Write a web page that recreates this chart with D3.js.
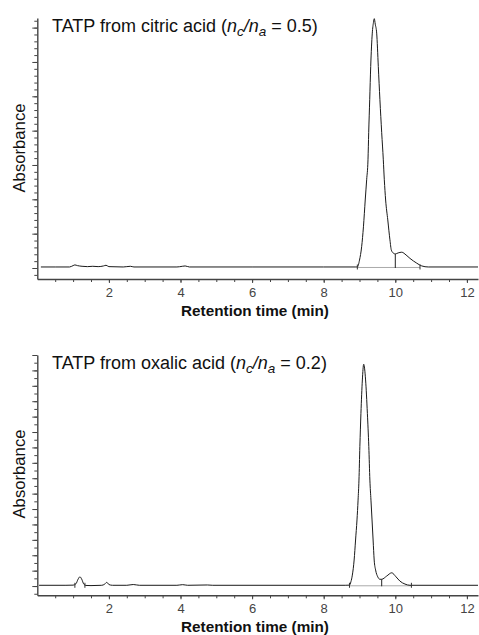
<!DOCTYPE html>
<html>
<head>
<meta charset="utf-8">
<script src="https://cdn.jsdelivr.net/npm/d3@7"></script>
<style>
  html, body { margin: 0; padding: 0; background: #fff; }
  svg { display: block; font-family: Arial, "Liberation Sans", sans-serif; }
</style>
</head>
<body>
<svg id="chart" width="479" height="635"></svg>
<script>
// ---------- DATA ----------
// Top panel: TATP from citric acid
const timesCitric = [0.10,0.50,0.90,1.00,1.05,1.12,1.25,1.40,1.55,1.70,1.85,1.92,2.00,2.40,2.60,2.70,3.90,4.05,4.13,4.25,6.00,8.00,8.90,
  8.94,9.00,9.06,9.11,9.16,9.20,9.237,9.257,9.285,9.313,9.357,9.39,9.413,9.44,9.48,9.525,9.57,9.62,9.665,9.693,9.73,9.79,9.85,9.89,9.95,
  10.00,10.08,10.18,10.30,10.41,10.60,10.74,10.92,12.31];
const absorbCitric = [0.03,0.03,0.03,0.07,0.09,0.07,0.05,0.04,0.05,0.04,0.06,0.08,0.04,0.03,0.05,0.03,0.03,0.05,0.06,0.03,0.03,0.03,0.03,
  0.03,0.23,0.62,1.20,1.98,2.57,3.15,3.94,4.90,5.87,6.84,7.15,7.26,7.10,6.84,5.87,4.90,3.94,3.15,2.57,1.98,1.40,0.82,0.52,0.43,
  0.41,0.44,0.46,0.38,0.28,0.14,0.06,0.03,0.03];
const markCitric = [8.94, 10.69];     // integration start/end marks
const dropCitric = [10.00];            // peak separation drop line

// Bottom panel: TATP from oxalic acid
const timesOxalic = [0.05,0.80,1.00,1.08,1.14,1.19,1.24,1.30,1.36,1.50,1.80,1.88,1.94,2.00,2.10,2.50,2.68,2.85,3.90,4.06,4.20,4.75,4.90,8.60,
  8.72,8.76,8.80,8.85,8.89,8.93,8.96,8.985,9.01,9.04,9.08,9.117,9.17,9.22,9.26,9.29,9.32,9.35,9.38,9.41,9.45,9.51,9.57,9.62,
  9.76,9.90,10.02,10.13,10.27,10.41,12.31];
const absorbOxalic = [0.05,0.05,0.06,0.15,0.45,0.60,0.45,0.12,0.04,0.03,0.05,0.12,0.24,0.10,0.05,0.05,0.10,0.05,0.05,0.09,0.05,0.07,0.05,0.05,
  0.06,0.28,0.71,1.69,2.99,4.29,5.58,6.88,9.05,11.21,13.38,14.40,13.38,11.21,9.05,6.88,5.58,4.29,2.99,1.69,1.04,0.60,0.44,0.44,
  0.65,0.86,0.60,0.32,0.13,0.05,0.05];
const markOxalic = [1.05, 1.33, 8.72, 10.45];
const dropOxalic = [9.62];

// Axis ticks
const xMajorTicks = [2, 4, 6, 8, 10, 12];
const xMinorTicks = d3.range(1, 25).map(i => i * 0.5);
const yMajorCitric = d3.range(0, 8);
const yMinorCitric = d3.range(-1, 37).map(i => i * 0.2);
const yMajorOxalic = d3.range(0, 16);
const yMinorOxalic = d3.range(-1, 31).map(i => i * 0.5);

// ---------- DRAWING ----------
const svg = d3.select("#chart");
const xScale = d3.scaleLinear().domain([0, 12.31]).range([37.3, 478]);

function drawPanel(p) {
  const g = svg.append("g");
  const y = d3.scaleLinear().domain(p.yDomain).range(p.yRange);
  const axisY = p.yRange[0];

  // x axis minor + major ticks
  g.append("g").attr("transform", `translate(0,${axisY})`)
    .call(d3.axisBottom(xScale).tickValues(xMinorTicks).tickSize(3).tickSizeOuter(0).tickFormat(""))
    .call(a => a.selectAll("line").attr("stroke", "#444"))
    .call(a => a.select(".domain").attr("stroke", "#444").attr("stroke-width", 1.4));
  g.append("g").attr("transform", `translate(0,${axisY})`)
    .call(d3.axisBottom(xScale).tickValues(xMajorTicks).tickSize(4).tickPadding(4.5).tickSizeOuter(0).tickFormat(d3.format("d")))
    .call(a => a.select(".domain").remove())
    .call(a => a.selectAll("line").attr("stroke", "#444"))
    .call(a => a.selectAll("text").attr("fill", "#444").style("font-size", "13px")
      .style("font-family", "Arial, 'Liberation Sans', sans-serif"));

  // y axis
  g.append("g").attr("transform", `translate(${xScale(0)},0)`)
    .call(d3.axisLeft(y).tickValues(p.yMinor).tickSize(3).tickSizeOuter(0).tickFormat(""))
    .call(a => a.selectAll("line").attr("stroke", "#444"))
    .call(a => a.select(".domain").attr("stroke", "#444").attr("stroke-width", 1.4));
  g.append("g").attr("transform", `translate(${xScale(0)},0)`)
    .call(d3.axisLeft(y).tickValues(p.yMajor).tickSize(5).tickSizeOuter(0).tickFormat(""))
    .call(a => a.select(".domain").remove())
    .call(a => a.selectAll("line").attr("stroke", "#444"));

  const base = p.values[0];
  // integration baseline (grey)
  const ext = d3.extent(p.marks.filter(m => m > 8));
  g.append("line")
    .attr("x1", xScale(ext[0])).attr("x2", xScale(ext[1]))
    .attr("y1", y(base) + 0.5).attr("y2", y(base) + 0.5)
    .attr("stroke", "#aaa").attr("stroke-width", 1);

  // trace
  const pts = p.times.map((t, i) => [t, p.values[i]]);
  g.append("path").datum(pts)
    .attr("fill", "none").attr("stroke", "#1a1a1a").attr("stroke-width", 1)
    .attr("d", d3.line().x(d => xScale(d[0])).y(d => y(d[1])).curve(d3.curveMonotoneX));

  // drop lines
  p.drops.forEach(t => {
    const i = p.times.indexOf(t);
    const v = i >= 0 ? p.values[i] : base;
    g.append("line").attr("x1", xScale(t)).attr("x2", xScale(t))
      .attr("y1", y(v)).attr("y2", y(base) + 1)
      .attr("stroke", "#222").attr("stroke-width", 1);
  });
  // integration marks
  p.marks.forEach(t => {
    g.append("line").attr("x1", xScale(t)).attr("x2", xScale(t))
      .attr("y1", y(base) - 2.5).attr("y2", y(base) + 2.5)
      .attr("stroke", "#333").attr("stroke-width", 1);
  });

  // title
  const tt = g.append("text").attr("x", 52).attr("y", p.titleY)
    .style("font-size", "18px").attr("fill", "#111");
  tt.append("tspan").text(p.titlePrefix);
  tt.append("tspan").attr("font-style", "italic").text("n");
  tt.append("tspan").attr("font-style", "italic").attr("dy", 4).style("font-size", "13.5px").text("c");
  tt.append("tspan").attr("dy", -4).attr("font-style", "italic").text("/n");
  tt.append("tspan").attr("font-style", "italic").attr("dy", 4).style("font-size", "13.5px").text("a");
  tt.append("tspan").attr("dy", -4).text(" = " + p.ratio + ")");

  // axis titles
  g.append("text").attr("x", 255).attr("y", p.xLabelY).attr("text-anchor", "middle")
    .style("font-size", "15.3px").style("font-weight", "bold").attr("fill", "#111")
    .text("Retention time (min)");
  g.append("text").attr("transform", `translate(25,${p.yLabelCenter}) rotate(-90)`)
    .attr("text-anchor", "middle").style("font-size", "16.7px").attr("fill", "#111")
    .text("Absorbance");
}

drawPanel({
  times: timesCitric, values: absorbCitric, marks: markCitric, drops: dropCitric,
  yDomain: [-0.32, 7.28], yRange: [279, 18], yMajor: yMajorCitric, yMinor: yMinorCitric,
  titlePrefix: "TATP from citric acid (", ratio: "0.5", titleY: 32, xLabelY: 316, yLabelCenter: 148
});
drawPanel({
  times: timesOxalic, values: absorbOxalic, marks: markOxalic, drops: dropOxalic,
  yDomain: [-0.6, 15], yRange: [595.3, 355], yMajor: yMajorOxalic, yMinor: yMinorOxalic,
  titlePrefix: "TATP from oxalic acid (", ratio: "0.2", titleY: 369, xLabelY: 632, yLabelCenter: 474
});
</script>
</body>
</html>
